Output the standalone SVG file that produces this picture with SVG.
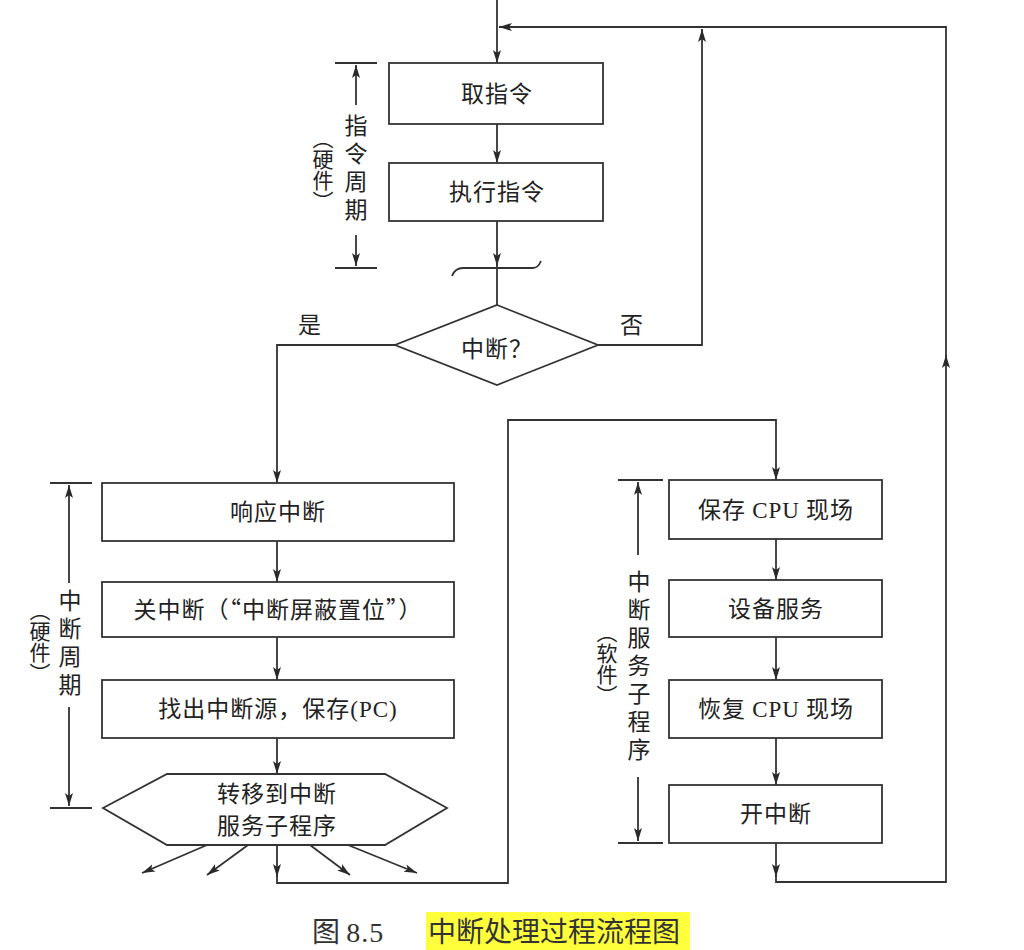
<svg xmlns="http://www.w3.org/2000/svg" width="1024" height="950" viewBox="0 0 1024 950">
<defs>
<marker id="arr" markerUnits="userSpaceOnUse" markerWidth="14" markerHeight="10" refX="13" refY="4" orient="auto">
<path d="M0,0 L13,4 L0,8 L3,4 z" fill="#2a2a2a"/>
</marker>
</defs>
<style>
.ln{fill:none;stroke:#333;stroke-width:1.8}
.box{fill:#fff;stroke:#333;stroke-width:1.8}
.t{font-family:"Noto Sans CJK SC","Noto Sans",sans-serif;font-size:23px;fill:#222;text-anchor:middle;letter-spacing:1px}
.lat{font-family:"Liberation Serif",serif}
.v{font-family:"Noto Sans CJK SC",sans-serif;font-size:23px;fill:#222;text-anchor:middle;writing-mode:vertical-rl;letter-spacing:5px}
.p{font-family:"Noto Sans CJK SC",sans-serif;font-size:21px;fill:#222;text-anchor:middle;writing-mode:vertical-rl;letter-spacing:0px}
.cap{font-family:"Noto Sans CJK SC",sans-serif;font-size:28px;fill:#333}
</style>
<rect width="1024" height="950" fill="#fff"/>

<g id="connectors">
<path class="ln" d="M497,0 V63" marker-end="url(#arr)"/>
<path class="ln" d="M497,124 V163" marker-end="url(#arr)"/>
<path class="ln" d="M497,221 V266" marker-end="url(#arr)"/>
<path class="ln" d="M497,264 V305"/>
<path class="ln" d="M598,345 H702 V29" marker-end="url(#arr)"/>
<path class="ln" d="M776,843 V877" marker-end="url(#arr)"/>
<path class="ln" d="M776,875 V882 H946 V355" marker-end="url(#arr)"/>
<path class="ln" d="M946,357 V27 H499" marker-end="url(#arr)"/>
<path class="ln" d="M395,345 H277 V483" marker-end="url(#arr)"/>
<path class="ln" d="M277,541 V582" marker-end="url(#arr)"/>
<path class="ln" d="M277,637 V680" marker-end="url(#arr)"/>
<path class="ln" d="M277,738 V774" marker-end="url(#arr)"/>
<path class="ln" d="M277,845 V877" marker-end="url(#arr)"/>
<path class="ln" d="M277,875 V883 H508 V420 H776 V480" marker-end="url(#arr)"/>
<path class="ln" d="M207,845 L142,873" marker-end="url(#arr)"/>
<path class="ln" d="M248,845 L207,875" marker-end="url(#arr)"/>
<path class="ln" d="M310,845 L350,875" marker-end="url(#arr)"/>
<path class="ln" d="M348,845 L417,873" marker-end="url(#arr)"/>
<path class="ln" d="M776,539 V580" marker-end="url(#arr)"/>
<path class="ln" d="M776,637 V680" marker-end="url(#arr)"/>
<path class="ln" d="M776,738 V785" marker-end="url(#arr)"/>
</g>

<g id="cut-mark">
<path class="ln" d="M452,276 Q455,268 463,268 H533 Q538,268 541,261"/>
</g>

<g id="fetch">
<rect class="box" x="389" y="63" width="214" height="61"/>
<text class="t" x="497" y="102">取指令</text>
</g>
<g id="execute">
<rect class="box" x="389" y="163" width="214" height="58"/>
<text class="t" x="497" y="200">执行指令</text>
</g>
<g id="decision">
<polygon class="box" points="497,305 598,345 497,385 395,345"/>
<text class="t" x="497" y="357">中断？</text>
<text class="t" x="310" y="333">是</text>
<text class="t" x="632" y="333">否</text>
</g>

<g id="respond">
<rect class="box" x="102" y="483" width="352" height="58"/>
<text class="t" x="278" y="520">响应中断</text>
</g>
<g id="disable">
<rect class="box" x="102" y="582" width="352" height="55"/>
<text class="t" x="278" y="618" letter-spacing="1.5">关中断（“中断屏蔽置位”）</text>
</g>
<g id="find-source">
<rect class="box" x="102" y="680" width="352" height="58"/>
<text class="t" x="278" y="717">找出中断源，保存<tspan class="lat">(PC)</tspan></text>
</g>
<g id="transfer">
<polygon class="box" points="167,774 385,774 447,808 385,845 167,845 103,808"/>
<text class="t" x="277" y="802">转移到中断</text>
<text class="t" x="277" y="834">服务子程序</text>
</g>

<g id="save-cpu">
<rect class="box" x="669" y="480" width="213" height="59"/>
<text class="t" x="776" y="518">保存 <tspan class="lat">CPU</tspan> 现场</text>
</g>
<g id="device-service">
<rect class="box" x="669" y="580" width="213" height="57"/>
<text class="t" x="776" y="617">设备服务</text>
</g>
<g id="restore-cpu">
<rect class="box" x="669" y="680" width="213" height="58"/>
<text class="t" x="776" y="717">恢复 <tspan class="lat">CPU</tspan> 现场</text>
</g>
<g id="enable">
<rect class="box" x="669" y="785" width="213" height="58"/>
<text class="t" x="776" y="822">开中断</text>
</g>

<g id="bracket-instruction">
<path class="ln" d="M335,63 H377 M335,268 H377"/>
<path class="ln" d="M356,105 V65" marker-end="url(#arr)"/>
<path class="ln" d="M356,235 V266" marker-end="url(#arr)"/>
<text class="v" x="356" y="170">指令周期</text>
<text class="p" x="323" y="170">（硬件）</text>
</g>

<g id="bracket-interrupt-cycle">
<path class="ln" d="M50,483 H92 M50,808 H92"/>
<path class="ln" d="M69,583 V485" marker-end="url(#arr)"/>
<path class="ln" d="M69,707 V806" marker-end="url(#arr)"/>
<text class="v" x="70" y="645">中断周期</text>
<text class="p" x="40" y="642">（硬件）</text>
</g>

<g id="bracket-service-routine">
<path class="ln" d="M618,480 H663 M618,843 H663"/>
<path class="ln" d="M638,555 V482" marker-end="url(#arr)"/>
<path class="ln" d="M638,777 V841" marker-end="url(#arr)"/>
<text class="v" x="639" y="668">中断服务子程序</text>
<text class="p" x="607" y="664">（软件）</text>
</g>

<g id="caption">
<rect x="426" y="912" width="264" height="38" fill="#ffff3c"/>
<text class="cap" x="312" y="942">图 <tspan font-family="Liberation Serif" letter-spacing="1">8.5</tspan></text>
<text class="cap" x="428" y="942" fill="#222">中断处理过程流程图</text>
</g>
</svg>
